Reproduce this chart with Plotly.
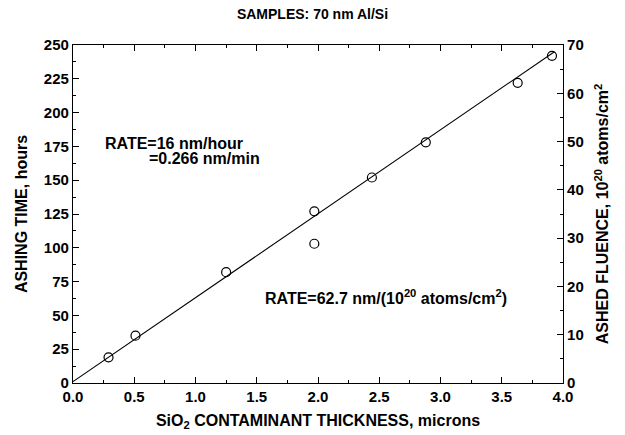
import plotly.graph_objects as go

# Data
thickness_um = [0.29, 0.51, 1.25, 1.97, 1.97, 2.44, 2.88, 3.63, 3.91]
ashing_hours = [19, 35, 82, 127, 103, 152, 178, 222, 242]
fit_x = [0.0, 3.93]
fit_y = [1.0, 245.0]

x_ticks = [0.0, 0.5, 1.0, 1.5, 2.0, 2.5, 3.0, 3.5, 4.0]
y_ticks = [0, 25, 50, 75, 100, 125, 150, 175, 200, 225, 250]
y2_ticks = [0, 10, 20, 30, 40, 50, 60, 70]

FONT = "Liberation Sans, Arial, Helvetica, sans-serif"

fig = go.Figure()
fig.add_trace(go.Scatter(x=fit_x, y=fit_y, mode="lines",
                         line=dict(color="black", width=1.1), showlegend=False))
fig.add_trace(go.Scatter(x=thickness_um, y=ashing_hours, mode="markers",
                         marker=dict(symbol="circle-open", size=9,
                                     color="black", line=dict(width=1.2)),
                         showlegend=False))
# invisible trace to activate right axis
fig.add_trace(go.Scatter(x=[0], y=[0], yaxis="y2", mode="markers",
                         marker=dict(opacity=0), showlegend=False, hoverinfo="skip"))

tickfont = dict(family=FONT, size=15, color="black", weight="bold")
axtitle = dict(family=FONT, size=16, color="black", weight="bold")
annfont = dict(family=FONT, size=16, color="black", weight="bold")

fig.update_layout(
    width=625, height=435,
    margin=dict(l=73, r=62, t=45, b=52),
    paper_bgcolor="white", plot_bgcolor="white",
    title=dict(text="SAMPLES: 70 nm Al/Si", x=0.5, xanchor="center",
               y=1 - 14 / 435, yanchor="middle",
               font=dict(family=FONT, size=14, color="black", weight="bold")),
    xaxis=dict(range=[0, 4], tickvals=x_ticks, automargin=False,
               ticktext=[f"{v:.1f}" for v in x_ticks],
               showline=True, linecolor="black", linewidth=1.2,
               mirror="ticks", ticks="inside", ticklen=6, tickcolor="black",
               minor=dict(ticks="inside", dtick=0.25, ticklen=3, tickcolor="black"),
               showgrid=False, zeroline=False, tickfont=tickfont,
               title=dict(text="SiO<sub>2</sub> CONTAMINANT THICKNESS, microns",
                          font=axtitle, standoff=10)),
    yaxis=dict(range=[0, 250], tickvals=y_ticks, automargin=False,
               showline=True, linecolor="black", linewidth=1.2,
               ticks="inside", ticklen=6, tickcolor="black",
               minor=dict(ticks="inside", dtick=12.5, ticklen=3, tickcolor="black"),
               showgrid=False, zeroline=False, tickfont=tickfont,
               title=dict(text="ASHING TIME, hours", font=axtitle, standoff=12)),
    yaxis2=dict(range=[0, 70], tickvals=y2_ticks, overlaying="y", side="right",
                automargin=False,
                showline=True, linecolor="black", linewidth=1.2,
                ticks="inside", ticklen=6, tickcolor="black",
                minor=dict(ticks="inside", dtick=5, ticklen=3, tickcolor="black"),
                showgrid=False, zeroline=False, tickfont=tickfont,
                title=dict(text="ASHED FLUENCE, 10<sup>20</sup> atoms/cm<sup>2</sup>",
                           font=axtitle, standoff=14)),
    annotations=[
        dict(text="RATE=16 nm/hour", x=103, y=143, xref="paper", yref="paper",
             showarrow=False, font=annfont, xanchor="left", yanchor="middle"),
        dict(text="=0.266 nm/min", x=147, y=158, xref="paper", yref="paper",
             showarrow=False, font=annfont, xanchor="left", yanchor="middle"),
        dict(text="RATE=62.7 nm/(10<sup>20</sup> atoms/cm<sup>2</sup>)", x=263, y=297,
             xref="paper", yref="paper",
             showarrow=False, font=annfont, xanchor="left", yanchor="middle"),
    ],
)

# convert pixel annotation positions to paper coords
pw = 625 - 73 - 62
ph = 435 - 45 - 52
for a in fig.layout.annotations:
    px, py = a.x, a.y
    a.x = (px - 73) / pw
    a.y = (435 - 52 - py) / ph

fig.write_html("out.html")
